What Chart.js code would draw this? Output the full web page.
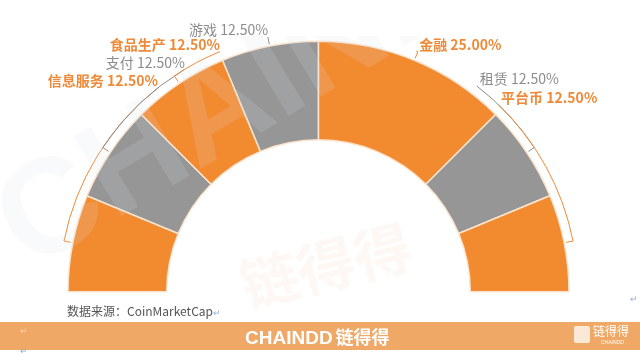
<!DOCTYPE html>
<html>
<head>
<meta charset="utf-8">
<script src="https://cdn.jsdelivr.net/npm/chart.js@4.4.0/dist/chart.umd.min.js"></script>
<style>
  body { margin: 0; background: #fff; }
  #wrap { position: relative; width: 640px; height: 355px; overflow: hidden; font-family: "Noto Sans CJK SC", "Noto Sans", sans-serif; }
  #myChart { position: absolute; left: 0; top: 0; }
  .wm { position: absolute; white-space: nowrap; pointer-events: none; font-weight: bold; }
  #wmClip { position: absolute; left: 0; top: 36px; width: 640px; height: 260px; overflow: hidden; pointer-events: none; }
  #source { position: absolute; left: 67px; top: 302px; font-size: 12px; color: #555; line-height: 18px; }
  .ret { color: #8fb0d8; font-size: 9px; }
  #footer { position: absolute; left: 0; top: 322px; width: 640px; height: 28px; background: #EFA866; }
  #brand { position: absolute; left: 245px; top: 2px; color: #fff; font-family: "Liberation Sans", Arial, sans-serif; font-weight: bold; font-size: 19px; line-height: 24px; }
  #brand span { font-family: "Noto Sans CJK SC", sans-serif; font-size: 18px; margin-left: 3px; }
  #logo { position: absolute; left: 574px; top: 4px; width: 16px; height: 17px; background: #fbe9d8; border-radius: 2px; }
  #logoTxt { position: absolute; left: 593px; top: 2px; color: #fff; font-size: 12px; line-height: 14px; }
  #logoSub { position: absolute; left: 601px; top: 17px; color: #fff; font-size: 5px; line-height: 6px; font-family: "Liberation Sans", sans-serif; }
</style>
</head>
<body>
<div id="wrap">
  <canvas id="myChart" width="640" height="355"></canvas>
  <div id="wmClip">
    <div class="wm" style="left:45px; top:110px; font-size:135px; line-height:150px; font-family:'Liberation Sans',sans-serif; color:rgba(215,222,232,0.16); transform:rotate(-31deg); transform-origin:0 100%;">CHAINDD</div>
  </div>
  <div class="wm" style="left:238px; top:228px; font-size:58px; line-height:70px; color:rgba(242,140,60,0.06); transform:rotate(-14deg);">链得得</div>
  <div id="source">数据来源：CoinMarketCap<span class="ret">↵</span></div>
  <div class="ret" style="position:absolute; left:630px; top:292px;">↵</div>
  <div id="footer">
    <div class="ret" style="position:absolute; left:20px; top:2px; color:#f6d2b0;">↵</div>
    <div id="brand">CHAINDD<span>链得得</span></div>
    <div id="logo"></div>
    <div id="logoTxt">链得得</div>
    <div id="logoSub">CHAINDD</div>
  </div>
  <div class="ret" style="position:absolute; left:20px; top:344px;">↵</div>
</div>
<script>
const ctx = document.getElementById('myChart');

// data
const categories = ['信息服务', '支付', '食品生产', '游戏', '金融', '租赁', '平台币'];
const shares = [12.5, 12.5, 12.5, 12.5, 25, 12.5, 12.5];

// styles / label layout
const orange = '#F28A30';
const grey = '#969696';
const sliceColors = [orange, grey, orange, grey, orange, grey, orange];
const textColors = ['#EE8A38', '#8C8C8C', '#EE8A38', '#8C8C8C', '#EE8A38', '#8C8C8C', '#EE8A38'];
// where each label sits on the outer ring (degrees, counter-clockwise from 3 o'clock)
const labelAngles = [128.2, 121, 112.3, 101.2, 67.9, 52.4, 46.2];

const labelPlugin = {
    id: 'sliceLabels',
    afterDatasetsDraw(chart) {
        const c = chart.ctx;
        const arcs = chart.getDatasetMeta(0).data;
        arcs.forEach((arc, i) => {
            const x = arc.x, y = arc.y, R = arc.outerRadius;
            const mid = (arc.startAngle + arc.endAngle) / 2;
            const a0 = -labelAngles[i] * Math.PI / 180;
            const r = R + 9;
            c.save();
            c.strokeStyle = textColors[i];
            c.lineWidth = 1;
            c.beginPath();
            c.arc(x, y, r, a0, mid, mid < a0);
            c.lineTo(x + Math.cos(mid) * (R + 2), y + Math.sin(mid) * (R + 2));
            c.stroke();
            const ax = x + Math.cos(a0) * r, ay = y + Math.sin(a0) * r;
            const left = labelAngles[i] < 90;
            c.fillStyle = textColors[i];
            c.font = (i % 2 === 0 ? '600 ' : '400 ') + '14px "Noto Sans CJK SC", sans-serif';
            c.textAlign = left ? 'left' : 'right';
            c.textBaseline = 'middle';
            c.fillText(categories[i] + ' ' + shares[i].toFixed(2) + '%', ax + (left ? 3 : 0), ay - 7);
            c.restore();
        });
    }
};

let chart = new Chart(ctx, {
    type: 'doughnut',
    plugins: [labelPlugin],
    data: {
        labels: categories,
        datasets: [{
            data: shares,
            backgroundColor: sliceColors,
            borderColor: '#FBE4CE',
            borderWidth: 1.5,
        }],
    },
    options: {
        responsive: false,
        rotation: -90,
        circumference: 180,
        cutout: '60.6%',
        layout: { padding: { left: 66.5, right: 69.5, top: 40.4, bottom: 62.6 } },
        plugins: {
            legend: { display: false },
            tooltip: { enabled: false },
        },
        animation: {
            duration: 0,
        }
    }
});
</script>
</body>
</html>
